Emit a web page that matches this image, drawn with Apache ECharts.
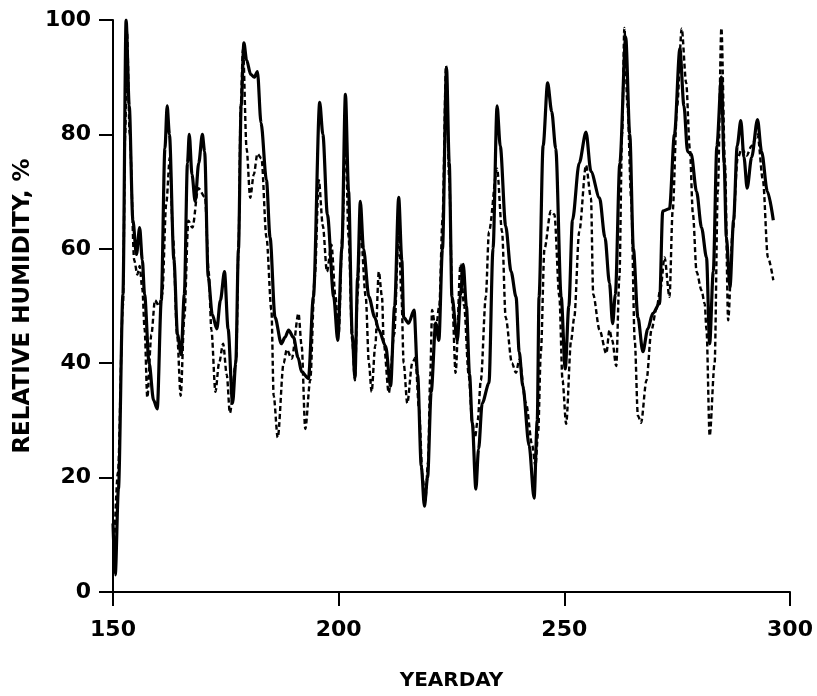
<!DOCTYPE html>
<html>
<head>
<meta charset="utf-8">
<script src="https://cdn.jsdelivr.net/npm/echarts@6/dist/echarts.min.js"></script>
<style>
html,body{margin:0;padding:0;background:#fff;}
#chart{width:817px;height:696px;}
</style>
</head>
<body>
<div id="chart"></div>
<script>
// X-axis ticks and Y-axis ticks
var xTicks = [150, 200, 250, 300];
var yTicks = [0, 20, 40, 60, 80, 100];

// Solid curve (yearday, relative humidity %)
var solidDay = [150.0,150.5,151.2,152.2,152.9,153.6,154.4,155.2,155.9,156.5,157,158,159,159.8,160.7,161.5,162,162.5,163.5,164.3,165.1,165.8,166.5,166.9,167.5,168.2,169,169.8,170.3,171.1,172,173,173.8,174.7,175.5,176.5,177.2,177.8,178.4,179,179.6,180.5,181.3,182,182.8,184,184.8,185.9,187.3,188.1,188.9,190,191,191.8,193.3,194.4,195.8,196.5,197.5,198.9,199.8,200.7,201.5,202.2,203.0,203.6,204.2,204.8,205.5,206.7,208,208.9,210.4,211.5,212.4,213.3,214,214.4,215.5,216.7,217.5,218.3,219,219.7,220.5,221.5,222.2,223,223.9,224.5,225.1,226.3,227,227.6,228.3,229,229.6,230.4,231,231.8,233.3,234.2,235.1,235.8,237,238.2,239.3,240,240.8,242.2,243.3,244,244.4,245.3,246.3,247.2,248.1,249.3,250.2,251,251.8,253.3,254.8,255.9,257.8,259,260,260.7,261.3,262.3,263.6,264.5,265.3,266.3,267.4,268.5,269.6,271.1,271.8,273.3,274.4,275.6,276.5,277.3,278.1,279.3,280.4,281.5,282.2,283,283.8,284.8,285.4,285.9,286.7,287.5,288.3,289.1,289.8,290.5,291.5,292.8,293.7,295,296.3];
var solidRH = [12,3,18,52,100,85,65,59,63.7,58,52,40,33.5,32,51,77.5,85,80,58,45,41.5,52,75,80,73,68.3,75,80,77,55,48.5,46,51,56,46,33,40,60,85,96,93,90.5,90,91,82,72,62,48,43.4,44.5,45.8,44.5,41,38.5,37.3,51.6,85.6,80,66,51.6,44,60,87,70,45,37.4,55,68.3,60,51.6,48,45.8,43,36,50,69,58,48,47,49.3,38,22,15,20,35,47,44,60,91.6,75,51.6,44,52,57.3,50,38,29.6,18,25,33,36.5,60,85,78,64,56,51.6,42,36,25.6,16.4,30,51.6,78,89,84,77.5,51.6,39,50,65,75,80.4,73.5,68.9,62,54,46.9,52,75,97,80,60,48,42,46,48.7,50.4,66.6,67,80,95,85,77,76.6,70,63.7,58.5,43.4,56,78,90,75,62,53.3,65,78,82.4,76,70.6,76,82.6,77,70,65];

// Dashed curve (yearday, relative humidity %)
var dashDay = [150.3,151.1,152.2,152.7,153.1,153.7,154.7,155.4,155.9,156.5,157,157.6,158.5,159.3,160.2,160.9,161.8,162.6,163.3,164.2,165,165.8,166.7,167.6,168.9,170.4,171.2,171.8,172.7,173.5,174.4,175.2,175.9,177.3,177.8,178.3,178.8,179.6,180.4,181.2,182,182.9,184,185.1,185.6,186.5,187.8,188.5,189.6,191.1,191.8,192.6,193.7,194.7,195.6,196.5,197.4,198.4,199.3,200,200.8,201.5,202.2,203,203.6,204.2,204.8,206,206.7,207.3,208.1,208.9,209.6,210,211.1,212.3,213.3,213.9,214.4,215.2,216.3,217,217.8,218.6,219.2,219.8,220.3,220.7,221.5,222.3,223,223.8,224.5,225.2,225.9,227,227.8,228.8,229.6,230.2,230.8,231.5,232.6,233.3,235.1,236.2,237,238.4,239.3,240,241.5,242.9,243.6,244.2,244.8,245.6,247,247.8,248.9,249.6,250.4,251.5,252.2,253.3,254.8,255.9,256.4,257.8,259.3,260,260.6,261.5,262.2,262.8,263.3,264,264.8,265.6,266.3,267,268.2,269.3,270.4,271.3,272.2,273.3,274,275,276,277,277.8,278.5,279.3,280.4,281.1,281.5,282.2,283.3,284,284.8,285.6,286.3,287.3,288.4,289.3,290.4,291.5,292.8,294,295.1,296.3];
var dashRH = [9,21,50,80,98,80,58,55.5,57,53,46,34,45,51,50,52,68,76,62,45,34.3,48,64.9,63.7,70.6,69,56,45.8,35,40,43.4,38,31.3,40.6,60,85,95,77.5,68.9,73,76.6,75.8,62,49.3,34.3,27,40,42.4,40.8,48.7,43,28.5,37,55,72,64,56,60.7,51.6,45,62,80,62,44,37,52,64,51.6,40,35,43,56,51.6,43.4,34.8,45,63,52,40,33,40,41,32,20,16,22.7,38,49.3,45.8,50,65,92,72,50,38.3,57.3,50,38,29.6,27,30,37,51.6,63,74,63,48,40,38.3,40.6,33,25.6,22,28,42,60,66.6,66,51.6,37,29.4,44,48,63,74.6,68.9,52,45.8,41.7,45.8,44,39.5,55,80,98.6,85,68.9,44,30.8,29.6,37,45.8,49.5,53,58.5,51.6,66.6,85,98.5,89,77.5,66,56,52.7,50.4,45.8,27.3,40,70,98.6,74.6,47.5,63,75.8,77.5,76.3,78,80,72,58.5,54.5];

function pairs(xs, ys){ return xs.map(function(x,i){ return [x, ys[i]]; }); }

var FONT = 'DejaVu Sans';
var chart = echarts.init(document.getElementById('chart'), null, {renderer:'canvas'});
chart.setOption({
  animation: false,
  backgroundColor: '#fff',
  grid: {left: 113, right: 27, top: 20, bottom: 98, containLabel: false},
  xAxis: {
    type: 'value', min: xTicks[0], max: xTicks[xTicks.length-1], interval: 50,
    name: 'YEARDAY', nameLocation: 'middle', nameGap: 79,
    nameTextStyle: {fontFamily: FONT, fontWeight: 'bold', fontSize: 20, color: '#000'},
    axisLine: {show: true, lineStyle: {color: '#000', width: 2}},
    axisTick: {show: true, inside: false, length: 14, lineStyle: {color: '#000', width: 2}},
    axisLabel: {fontFamily: FONT, fontWeight: 'bold', fontSize: 22, color: '#000', margin: 27},
    splitLine: {show: false}
  },
  yAxis: {
    type: 'value', min: yTicks[0], max: yTicks[yTicks.length-1], interval: 20,
    name: 'RELATIVE HUMIDITY, %', nameLocation: 'middle', nameGap: 72, nameRotate: 90,
    nameTextStyle: {fontFamily: FONT, fontWeight: 'bold', fontSize: 23, color: '#000'},
    axisLine: {show: true, lineStyle: {color: '#000', width: 2}},
    axisTick: {show: true, inside: false, length: 14, lineStyle: {color: '#000', width: 2}},
    axisLabel: {fontFamily: FONT, fontWeight: 'bold', fontSize: 22, color: '#000', margin: 22},
    splitLine: {show: false}
  },
  series: [
    {
      type: 'line', data: pairs(dashDay, dashRH), showSymbol: false,
      smooth: 0.3, smoothMonotone: 'x',
      lineStyle: {color: '#000', width: 2.4, type: [5, 3]}
    },
    {
      type: 'line', data: pairs(solidDay, solidRH), showSymbol: false,
      smooth: 0.3, smoothMonotone: 'x',
      lineStyle: {color: '#000', width: 3.2, type: 'solid'}
    }
  ]
});
</script>
</body>
</html>
